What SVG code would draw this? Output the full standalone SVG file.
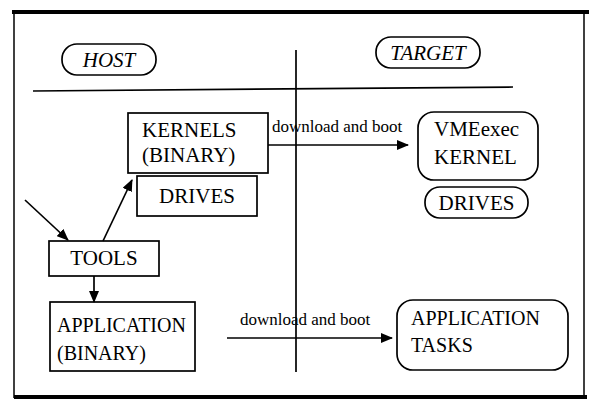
<svg xmlns="http://www.w3.org/2000/svg" width="589" height="403" viewBox="0 0 589 403">
<style>
.box{fill:#fff;stroke:#000;stroke-width:1.7}
.t{font-family:"Liberation Serif","Times New Roman",serif;font-size:21px;fill:#000}
.s{font-size:20px}
.i{font-style:italic}
.lbl{font-family:"Liberation Serif","Times New Roman",serif;font-size:17px;fill:#000}
.ln{stroke:#000;stroke-width:1.7;fill:none}
</style>
<defs>
<marker id="ah" viewBox="0 0 12 10" refX="11" refY="5" markerWidth="12" markerHeight="10" markerUnits="userSpaceOnUse" orient="auto">
<path d="M0,0 L12,5 L0,10 Z" fill="#000"/>
</marker>
</defs>
<rect width="589" height="403" fill="#fff"/>
<g id="frame">
<line x1="12" y1="12" x2="589" y2="12" stroke="#000" stroke-width="4"/>
<line x1="14" y1="12" x2="14" y2="398" stroke="#000" stroke-width="1.5"/>
<line x1="584" y1="12" x2="584" y2="398" stroke="#000" stroke-width="1.5"/>
<line x1="14" y1="397" x2="587" y2="397" stroke="#000" stroke-width="4"/>
</g>
<g id="dividers">
<line class="ln" x1="33" y1="91" x2="513" y2="87"/>
<line class="ln" x1="296" y1="50" x2="296" y2="372"/>
</g>
<g id="host">
<rect class="box" x="62" y="44" width="94" height="31" rx="15"/>
<text class="t i" x="109" y="67" text-anchor="middle">HOST</text>
</g>
<g id="target">
<rect class="box" x="376" y="37" width="104" height="31" rx="15"/>
<text class="t i" x="428" y="60" text-anchor="middle">TARGET</text>
</g>
<g id="kernels">
<rect class="box" x="128" y="113" width="140" height="60"/>
<text class="t" x="142" y="137">KERNELS</text>
<text class="t" x="142" y="162">(BINARY)</text>
</g>
<g id="drives-host">
<rect class="box" x="137" y="176" width="120" height="40"/>
<text class="t" x="197" y="203" text-anchor="middle">DRIVES</text>
</g>
<g id="tools">
<rect class="box" x="49" y="241" width="110" height="35"/>
<text class="t" x="104" y="265" text-anchor="middle">TOOLS</text>
</g>
<g id="application">
<rect class="box" x="50" y="302" width="145" height="69"/>
<text class="t s" x="57" y="332">APPLICATION</text>
<text class="t s" x="57" y="360">(BINARY)</text>
</g>
<g id="vmeexec">
<rect class="box" x="418" y="112" width="120" height="68" rx="16"/>
<text class="t" x="434" y="136">VMEexec</text>
<text class="t" x="434" y="164">KERNEL</text>
</g>
<g id="drives-target">
<rect class="box" x="425" y="187" width="103" height="31" rx="15"/>
<text class="t" x="476.5" y="210" text-anchor="middle">DRIVES</text>
</g>
<g id="app-tasks">
<rect class="box" x="397" y="300" width="171" height="70" rx="16"/>
<text class="t s" x="411" y="325">APPLICATION</text>
<text class="t s" x="411" y="352">TASKS</text>
</g>
<g id="connectors">
<line class="ln" x1="25" y1="200" x2="68" y2="240" marker-end="url(#ah)"/>
<line class="ln" x1="103" y1="241" x2="132" y2="180" marker-end="url(#ah)"/>
<line class="ln" x1="94" y1="276" x2="94" y2="302" marker-end="url(#ah)"/>
<line class="ln" x1="268" y1="145" x2="408" y2="145" marker-end="url(#ah)"/>
<line class="ln" x1="227" y1="338" x2="392" y2="338" marker-end="url(#ah)"/>
<text class="lbl" x="272" y="132">download and boot</text>
<text class="lbl" x="240" y="325">download and boot</text>
</g>
</svg>
